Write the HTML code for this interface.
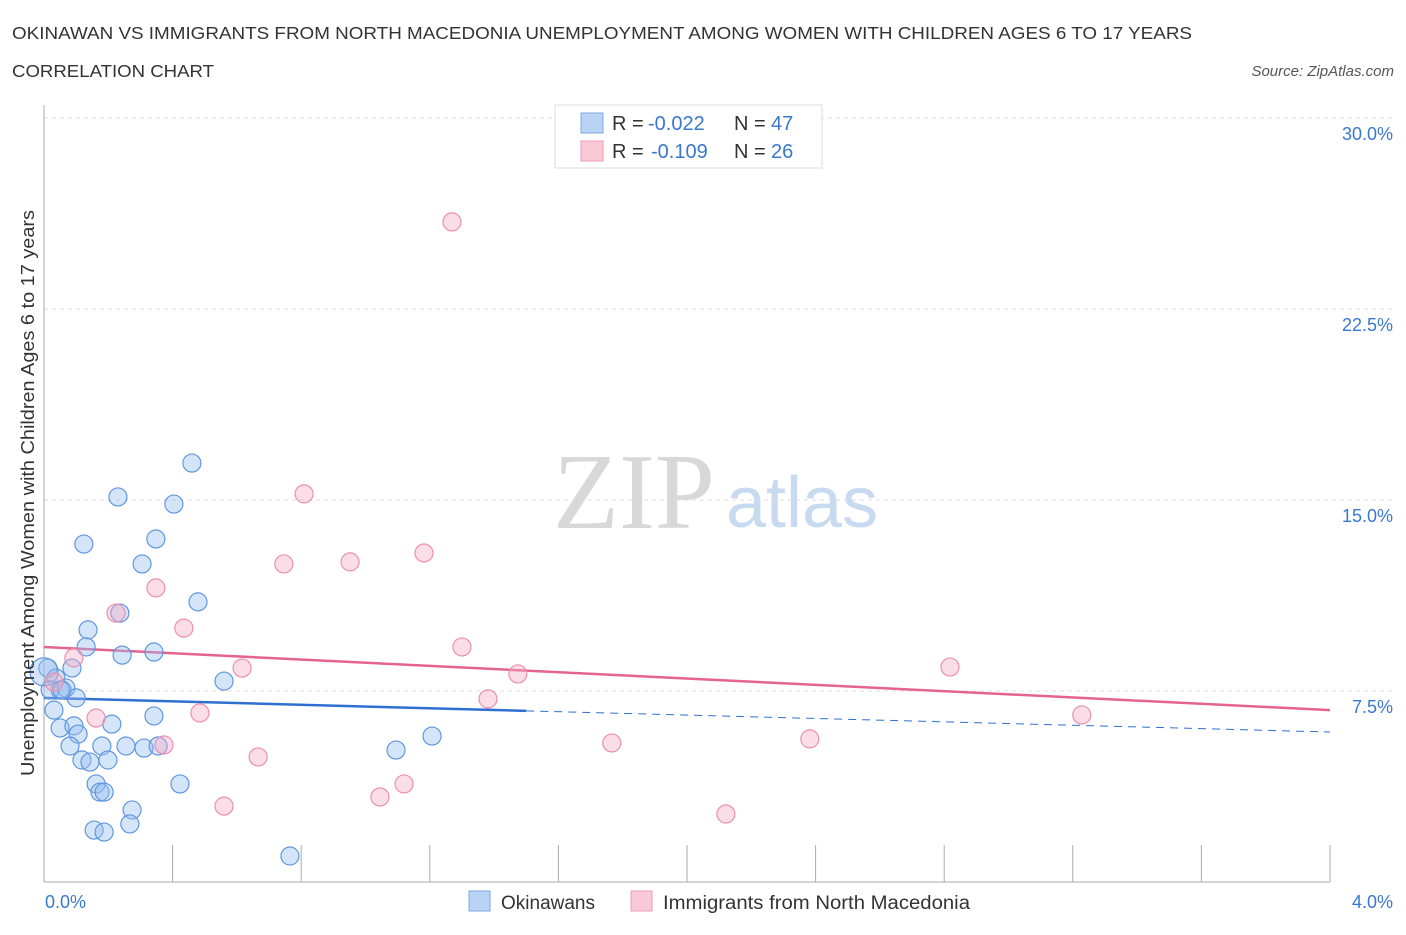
<!DOCTYPE html>
<html><head><meta charset="utf-8"><style>
body{margin:0;background:#fff;font-family:"Liberation Sans",sans-serif}
svg text{font-family:"Liberation Sans",sans-serif}
</style></head><body>
<svg id="chart" width="1406" height="930" viewBox="0 0 1406 930" xmlns="http://www.w3.org/2000/svg">
<text x="12" y="39" font-size="17.5" fill="#333" textLength="1180" lengthAdjust="spacingAndGlyphs">OKINAWAN VS IMMIGRANTS FROM NORTH MACEDONIA UNEMPLOYMENT AMONG WOMEN WITH CHILDREN AGES 6 TO 17 YEARS</text>
<text x="12" y="77" font-size="17.5" fill="#333" textLength="202" lengthAdjust="spacingAndGlyphs">CORRELATION CHART</text>
<text x="1394" y="76" font-size="15" font-style="italic" fill="#555" text-anchor="end">Source: ZipAtlas.com</text>
<g>
<text x="634" y="528" font-size="108" fill="#d8d8d8" text-anchor="middle" style="font-family:'Liberation Serif',serif">ZIP</text>
<text x="802" y="527" font-size="72" fill="#c8daf0" text-anchor="middle">atlas</text>
</g>
<g id="grid"></g>
<g id="axes"></g>
<g id="trends"></g>
<g id="points"></g>
<text transform="translate(34,493) rotate(-90)" font-size="18" fill="#333" text-anchor="middle" textLength="566" lengthAdjust="spacingAndGlyphs">Unemployment Among Women with Children Ages 6 to 17 years</text>
<g>
<rect x="555" y="105" width="267" height="63" fill="#fff" stroke="#ddd"/>
<rect x="581" y="113" width="22" height="20" fill="#b9d3f5" stroke="#7aa8e6"/>
<rect x="581" y="141" width="22" height="20" fill="#f9c9d7" stroke="#ee9bb5"/>
<text x="612" y="130" font-size="20" fill="#333">R =</text>
<text x="648" y="130" font-size="20" fill="#3a78d0">-0.022</text>
<text x="734" y="130" font-size="20" fill="#333">N =</text>
<text x="771" y="130" font-size="20" fill="#3a78d0">47</text>
<text x="612" y="158" font-size="20" fill="#333">R =</text>
<text x="651" y="158" font-size="20" fill="#3a78d0">-0.109</text>
<text x="734" y="158" font-size="20" fill="#333">N =</text>
<text x="771" y="158" font-size="20" fill="#3a78d0">26</text>
</g>
<g>
<rect x="469" y="891" width="21" height="20" fill="#b9d3f5" stroke="#7aa8e6"/>
<text x="501" y="909" font-size="19" fill="#333">Okinawans</text>
<rect x="631" y="891" width="21" height="20" fill="#f9c9d7" stroke="#ee9bb5"/>
<text x="663" y="909" font-size="19" fill="#333" textLength="307" lengthAdjust="spacingAndGlyphs">Immigrants from North Macedonia</text>
</g>
</svg>
<script>
const blueX=[0.460,0.230,0.404,0.124,0.348,0.305,0.479,0.236,0.137,0.131,0.243,0.342,0.087,0.012,0.037,0.068,0.050,0.560,0.100,0.031,0.211,0.050,0.093,0.106,0.342,0.081,0.180,0.255,0.311,0.355,0.118,0.143,0.199,0.162,0.174,0.187,0.423,0.274,0.267,0.156,0.187,0.765,1.095,1.207,0.0,0.019,0.056];
const blueY=[16.45,15.12,14.84,13.27,13.47,12.49,11.00,10.56,9.90,9.23,8.91,9.03,8.40,8.40,8.01,7.62,7.54,7.89,7.23,6.75,6.20,6.05,6.13,5.81,6.52,5.34,5.34,5.34,5.26,5.34,4.79,4.71,4.79,3.85,3.53,3.53,3.85,2.83,2.28,2.04,1.96,1.02,5.18,5.73,8.25,7.54,7.54];
const pinkX=[1.269,0.809,1.182,0.746,0.952,0.348,0.224,0.435,1.300,0.616,0.093,1.474,2.818,1.381,0.162,0.485,0.031,3.228,1.766,2.382,0.373,0.666,1.120,1.045,0.560,2.121];
const pinkY=[25.92,15.24,12.92,12.49,12.57,11.55,10.56,9.97,9.23,8.40,8.80,8.17,8.44,7.19,6.44,6.64,7.85,6.56,5.46,5.62,5.38,4.91,3.85,3.34,2.98,2.67];
const yTicks=[7.5,15,22.5,30];
const yTickLabels=["7.5%","15.0%","22.5%","30.0%"];
const xTicks=[0,0.4,0.8,1.2,1.6,2.0,2.4,2.8,3.2,3.6,4.0];
const blueTrend=[[0,7.23],[1.5,6.72],[4.0,5.89]];
const pinkTrend=[[0,9.23],[4.0,6.75]];
const X=v=>44+v/4*1286, Y=v=>882-v/7.5*191;
const NS="http://www.w3.org/2000/svg";
function mk(p,t,a){const e=document.createElementNS(NS,t);for(const k in a)e.setAttribute(k,a[k]);p.appendChild(e);return e;}
const grid=document.getElementById('grid'),axes=document.getElementById('axes'),tr=document.getElementById('trends'),pts=document.getElementById('points');
yTicks.forEach((v,i)=>{
 const l=mk(grid,'line',{x1:44,x2:1394,y1:Y(v),y2:Y(v),stroke:'#ddd','stroke-dasharray':'4,4'});
 
 
 const t=mk(axes,'text',{x:1393,y:Y(v)+22,'font-size':18,fill:'#3a78d0','text-anchor':'end'});t.textContent=yTickLabels[i];
 
 
});
mk(axes,'line',{x1:44,x2:44,y1:105,y2:882,stroke:'#aaa'});
mk(axes,'line',{x1:44,x2:1330,y1:882,y2:882,stroke:'#aaa'});
xTicks.forEach(v=>{const t=mk(axes,'line',{x1:X(v),x2:X(v),y1:845,y2:882,stroke:'#aaa'});
 
 });
let t0=mk(axes,'text',{x:45,y:908,'font-size':18,fill:'#3a78d0'});t0.textContent='0.0%';


let t1=mk(axes,'text',{x:1393,y:908,'font-size':18,fill:'#3a78d0','text-anchor':'end'});t1.textContent='4.0%';


function dots(xs,ys,fill,stroke,name){xs.forEach((x,i)=>{const c=mk(pts,'circle',{cx:X(x),cy:Y(ys[i]),r:(i===44&&name==='okinawan-point')?14:9,fill:fill,stroke:stroke,'stroke-width':1.2});
 
 });}
dots(blueX,blueY,'rgba(150,190,240,0.4)','#5f97e0','okinawan-point');
dots(pinkX,pinkY,'rgba(245,170,195,0.4)','#ec8fae','macedonia-point');
let b1=mk(tr,'line',{x1:X(blueTrend[0][0]),y1:Y(blueTrend[0][1]),x2:X(blueTrend[1][0]),y2:Y(blueTrend[1][1]),stroke:'#2f6fd0','stroke-width':2.5});


let b2=mk(tr,'line',{x1:X(blueTrend[1][0]),y1:Y(blueTrend[1][1]),x2:X(blueTrend[2][0]),y2:Y(blueTrend[2][1]),stroke:'#2f6fd0','stroke-width':1,'stroke-dasharray':'8,6'});


let p1=mk(tr,'line',{x1:X(pinkTrend[0][0]),y1:Y(pinkTrend[0][1]),x2:X(pinkTrend[1][0]),y2:Y(pinkTrend[1][1]),stroke:'#e4638f','stroke-width':2.5});


</script>
</body></html>
